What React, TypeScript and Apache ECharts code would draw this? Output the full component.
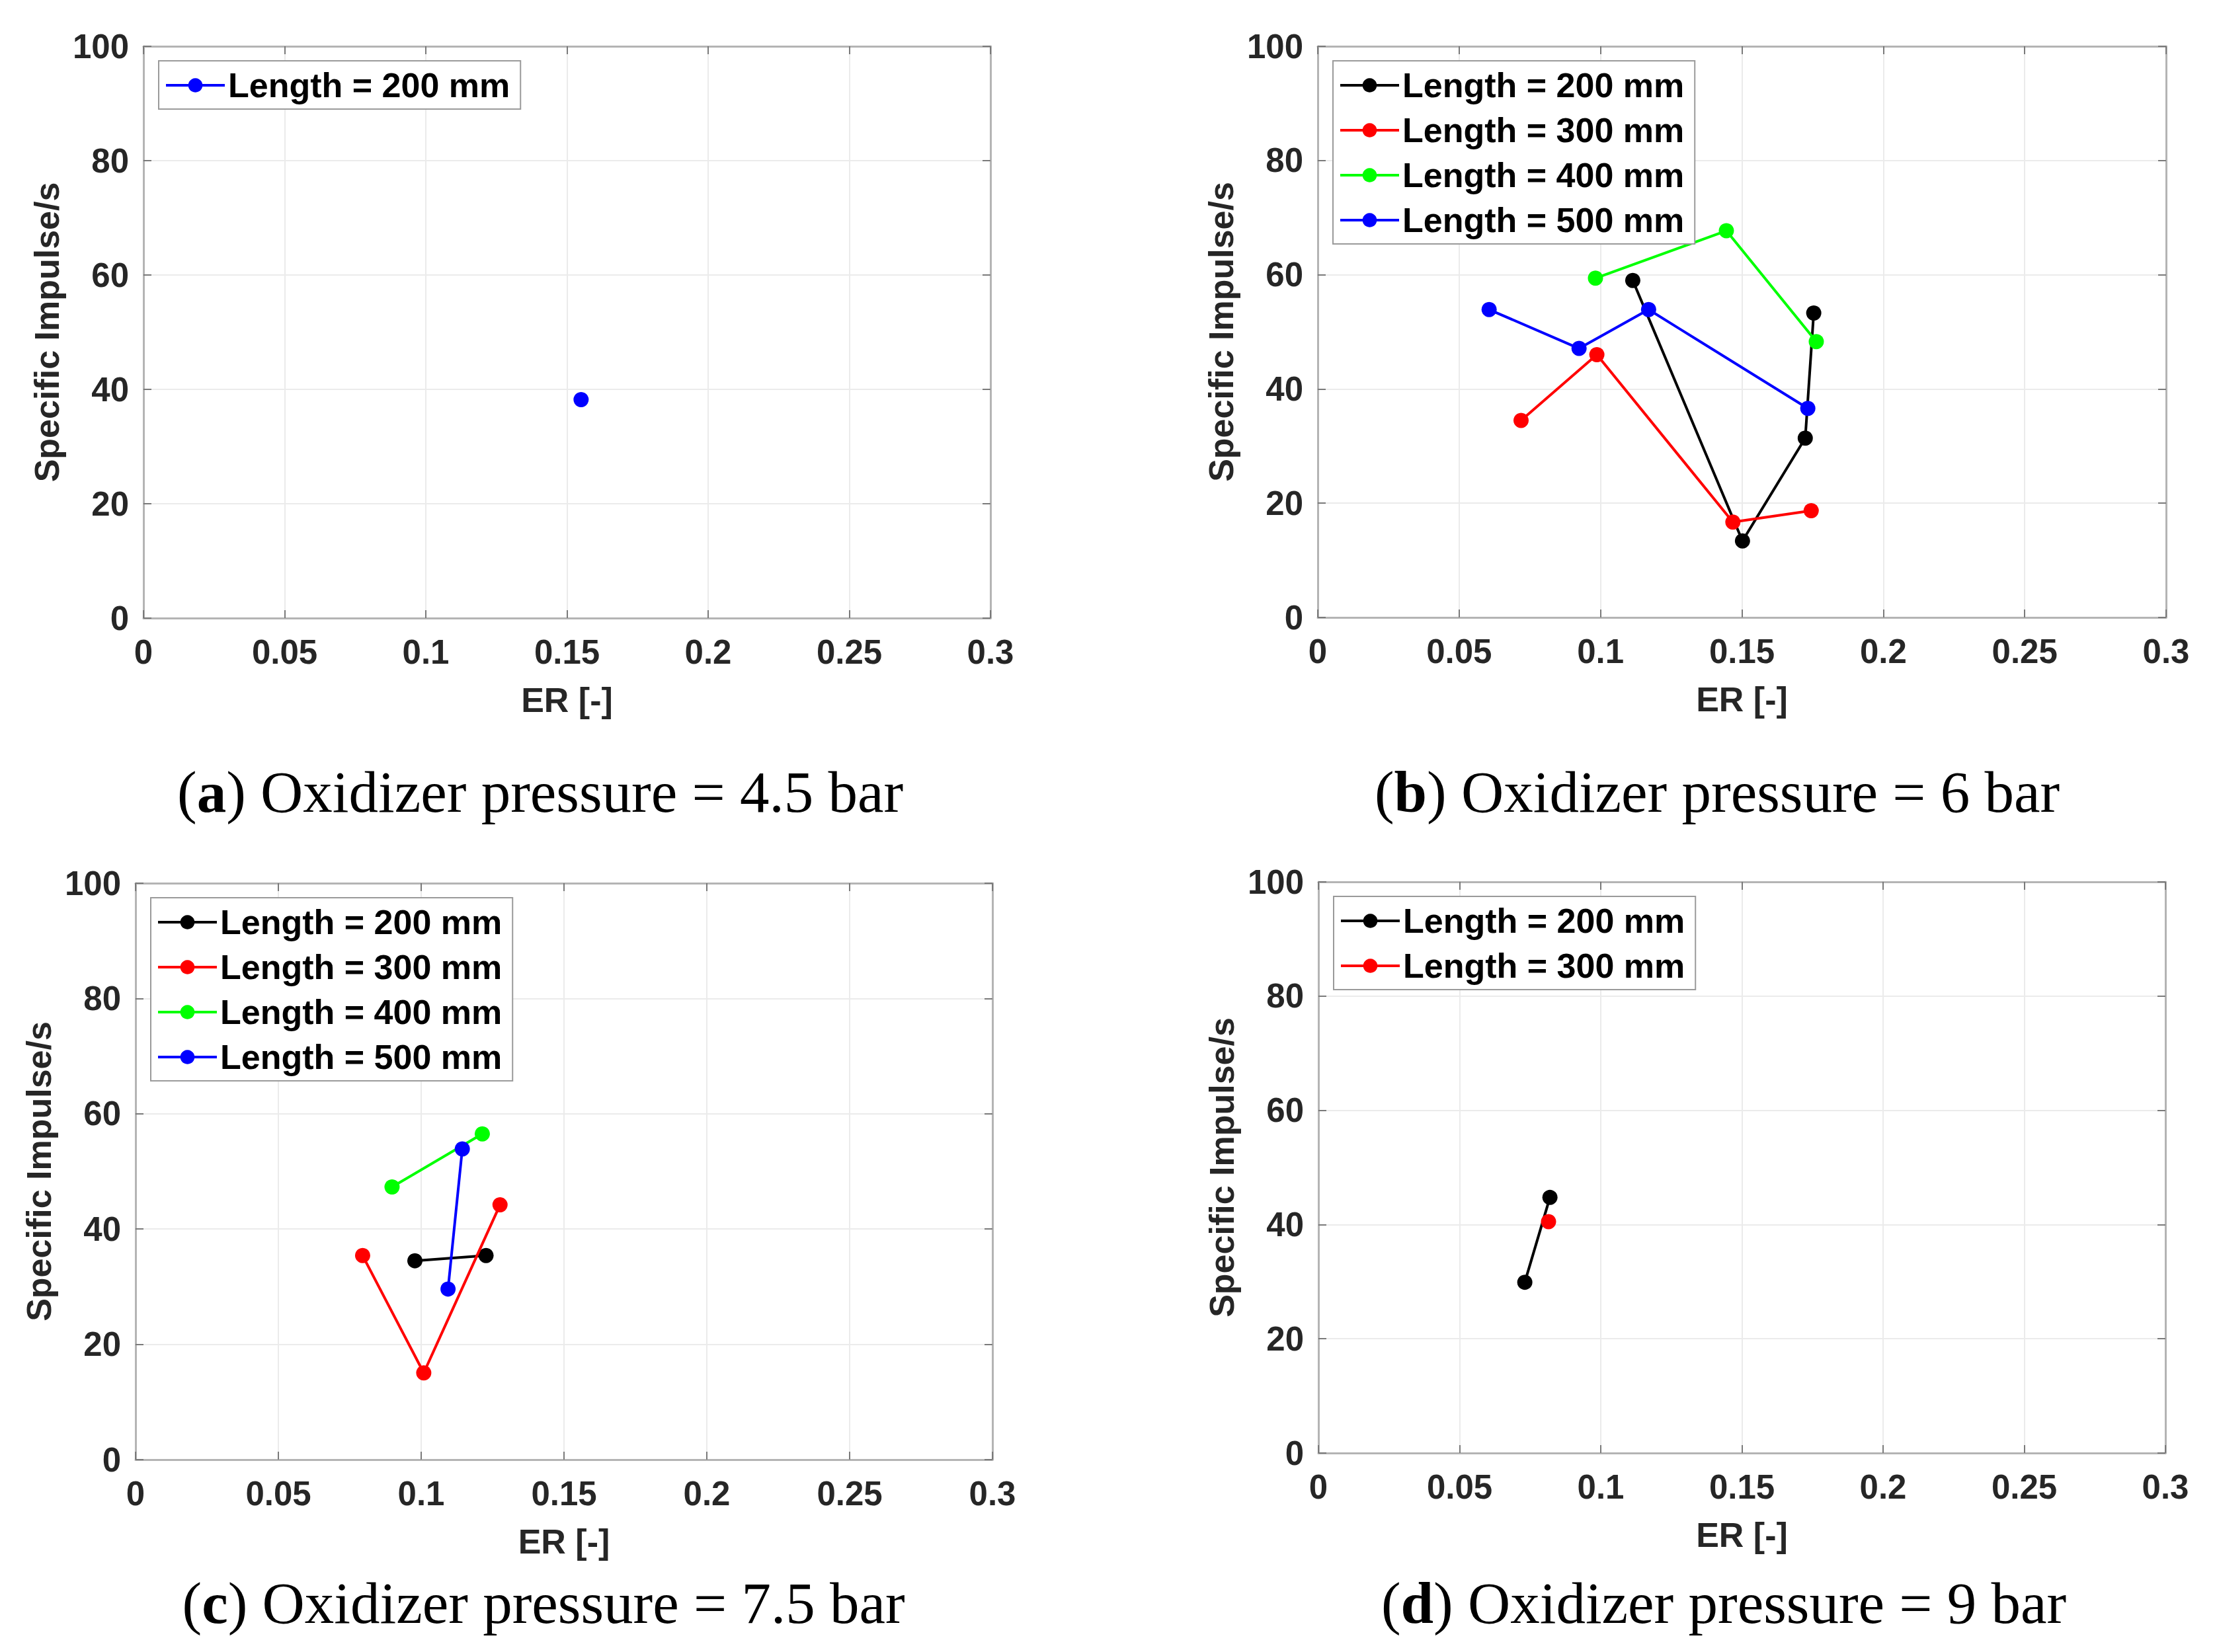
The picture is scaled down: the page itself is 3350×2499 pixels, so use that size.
import React, { useEffect, useRef } from "react";
import * as echarts from "echarts";

// ---- axis ranges / ticks ----
const X_MIN = 0;
const X_MAX = 0.3;
const X_STEP = 0.05;
const Y_MIN = 0;
const Y_MAX = 100;
const Y_STEP = 20;

const X_TITLE = "ER [-]";
const Y_TITLE = "Specific Impulse/s";

// ---- legend names ----
const LENGTHS = ["Length = 200 mm", "Length = 300 mm", "Length = 400 mm", "Length = 500 mm"];

// ---- captions ----
const PANEL_LETTERS = ["a", "b", "c", "d"];
const PRESSURES = ["4.5", "6", "7.5", "9"];

// ---- data: [ER, specific impulse] ----
// (a) 4.5 bar
const a_200 = [[0.155, 38.2]];
// (b) 6 bar
const b_200 = [[0.1114, 59.0], [0.1502, 13.4], [0.1724, 31.4], [0.1754, 53.3]];
const b_300 = [[0.0719, 34.5], [0.0987, 46.0], [0.1468, 16.7], [0.1745, 18.7]];
const b_400 = [[0.0982, 59.4], [0.1445, 67.7], [0.1763, 48.3]];
const b_500 = [[0.0606, 53.9], [0.0924, 47.1], [0.117, 53.9], [0.1733, 36.6]];
// (c) 7.5 bar
const c_200 = [[0.0978, 34.5], [0.1227, 35.4]];
const c_300 = [[0.0795, 35.4], [0.1009, 15.05], [0.1276, 44.2]];
const c_400 = [[0.0898, 47.3], [0.1214, 56.5]];
const c_500 = [[0.1094, 29.6], [0.1144, 53.9]];
// (d) 9 bar
const d_200 = [[0.0731, 29.9], [0.082, 44.75]];
const d_300 = [[0.0815, 40.5]];

const BLACK = "#000000";
const RED = "#ff0000";
const GREEN = "#00ff00";
const BLUE = "#0000ff";

const PANELS = [
  { series: [{ len: 0, data: a_200, color: BLUE }] },
  {
    series: [
      { len: 0, data: b_200, color: BLACK },
      { len: 1, data: b_300, color: RED },
      { len: 2, data: b_400, color: GREEN },
      { len: 3, data: b_500, color: BLUE },
    ],
  },
  {
    series: [
      { len: 0, data: c_200, color: BLACK },
      { len: 1, data: c_300, color: RED },
      { len: 2, data: c_400, color: GREEN },
      { len: 3, data: c_500, color: BLUE },
    ],
  },
  {
    series: [
      { len: 0, data: d_200, color: BLACK },
      { len: 1, data: d_300, color: RED },
    ],
  },
];

// ---- layout ----
const GRIDS = [
  { left: 217, top: 70, width: 1281, height: 865 },
  { left: 1993, top: 70, width: 1283, height: 864 },
  { left: 205, top: 1336, width: 1296, height: 872 },
  { left: 1994, top: 1334, width: 1281, height: 864 },
];
const CAPTION_POS = [
  [817, 1198],
  [2597, 1198],
  [822, 2425],
  [2607, 2425],
];

const SANS = "Liberation Sans, Arial, Helvetica, sans-serif";
const SERIF = "Liberation Serif, Times New Roman, serif";
const AXIS_COLOR = "#b4b4b4";
const TICK_COLOR = "#7a7a7a";
const GRID_COLOR = "#ebebeb";
const TEXT_COLOR = "#262626";

function makeX(gi: number, pos: "bottom" | "top") {
  const main = pos === "bottom";
  return {
    type: "value",
    gridIndex: gi,
    position: pos,
    min: X_MIN,
    max: X_MAX,
    interval: X_STEP,
    name: main ? X_TITLE : "",
    nameLocation: "middle",
    nameGap: 98,
    nameTextStyle: { fontFamily: SANS, fontSize: 52, fontWeight: "bold", color: TEXT_COLOR },
    axisLine: { show: true, onZero: false, lineStyle: { color: AXIS_COLOR, width: 3 } },
    axisTick: { show: true, inside: true, length: 12, lineStyle: { color: TICK_COLOR, width: 2 } },
    axisLabel: main
      ? { show: true, margin: 26, fontFamily: SANS, fontSize: 51, fontWeight: "bold", color: TEXT_COLOR }
      : { show: false },
    splitLine: { show: main, lineStyle: { color: GRID_COLOR, width: 2 } },
  };
}

function makeY(gi: number, pos: "left" | "right") {
  const main = pos === "left";
  return {
    type: "value",
    gridIndex: gi,
    position: pos,
    min: Y_MIN,
    max: Y_MAX,
    interval: Y_STEP,
    name: main ? Y_TITLE : "",
    nameLocation: "middle",
    nameGap: 120,
    nameTextStyle: { fontFamily: SANS, fontSize: 52, fontWeight: "bold", color: TEXT_COLOR },
    axisLine: { show: true, onZero: false, lineStyle: { color: AXIS_COLOR, width: 3 } },
    axisTick: { show: true, inside: true, length: 12, lineStyle: { color: TICK_COLOR, width: 2 } },
    axisLabel: main
      ? { show: true, margin: 22, fontFamily: SANS, fontSize: 51, fontWeight: "bold", color: TEXT_COLOR }
      : { show: false },
    splitLine: { show: main, lineStyle: { color: GRID_COLOR, width: 2 } },
  };
}

function buildOption() {
  const grid = GRIDS.map((g) => ({ ...g, containLabel: false }));
  const xAxis: any[] = [];
  const yAxis: any[] = [];
  GRIDS.forEach((_, i) => {
    xAxis.push(makeX(i, "bottom"));
    xAxis.push(makeX(i, "top"));
    yAxis.push(makeY(i, "left"));
    yAxis.push(makeY(i, "right"));
  });

  const series: any[] = [];
  const legend: any[] = [];
  PANELS.forEach((p, i) => {
    const names: string[] = [];
    p.series.forEach((s, k) => {
      const name = `${PANEL_LETTERS[i]}|${LENGTHS[s.len]}`;
      names.push(name);
      series.push({
        name,
        type: "line",
        xAxisIndex: 2 * i,
        yAxisIndex: 2 * i,
        data: s.data,
        symbol: "circle",
        symbolSize: 23,
        showSymbol: true,
        showAllSymbol: true,
        color: s.color,
        lineStyle: { width: 4, color: s.color },
        itemStyle: { color: s.color },
        emphasis: { disabled: true },
        silent: true,
        z: 3 + k,
      });
    });
    const g = GRIDS[i];
    legend.push({
      orient: "vertical",
      left: g.left + 23,
      top: g.top + 22,
      data: names,
      selectedMode: false,
      backgroundColor: "#ffffff",
      borderColor: "#9a9a9a",
      borderWidth: 2,
      borderRadius: 0,
      padding: [11, 16, 10, 9],
      itemGap: 16,
      itemWidth: 89,
      itemHeight: 27,
      lineStyle: { width: 4 },
      textStyle: { fontFamily: SANS, fontSize: 52, fontWeight: "bold", color: "#000000" },
      formatter: (n: string) => n.split("|")[1],
      z: 10,
    });
  });

  const graphic = PANEL_LETTERS.map((letter, i) => ({
    type: "text",
    x: CAPTION_POS[i][0],
    y: CAPTION_POS[i][1],
    silent: true,
    style: {
      text: `{n|(}{b|${letter}}{n|) Oxidizer pressure = ${PRESSURES[i]} bar}`,
      rich: {
        n: { fontFamily: SERIF, fontSize: 89, fill: "#000000" },
        b: { fontFamily: SERIF, fontSize: 89, fontWeight: "bold", fill: "#000000" },
      },
      fontFamily: SERIF,
      fontSize: 89,
      fill: "#000000",
      align: "center",
      verticalAlign: "middle",
    },
  }));

  return {
    animation: false,
    backgroundColor: "#ffffff",
    grid,
    xAxis,
    yAxis,
    legend,
    series,
    graphic,
  };
}

export default function App() {
  const ref = useRef<HTMLDivElement>(null);
  useEffect(() => {
    if (!ref.current) return;
    const chart = echarts.init(ref.current, null, { renderer: "svg" });
    chart.setOption(buildOption() as any);
    return () => chart.dispose();
  }, []);
  return (
    <div
      ref={ref}
      style={{ position: "absolute", left: 0, top: 0, width: 3350, height: 2499, background: "#ffffff" }}
    />
  );
}
